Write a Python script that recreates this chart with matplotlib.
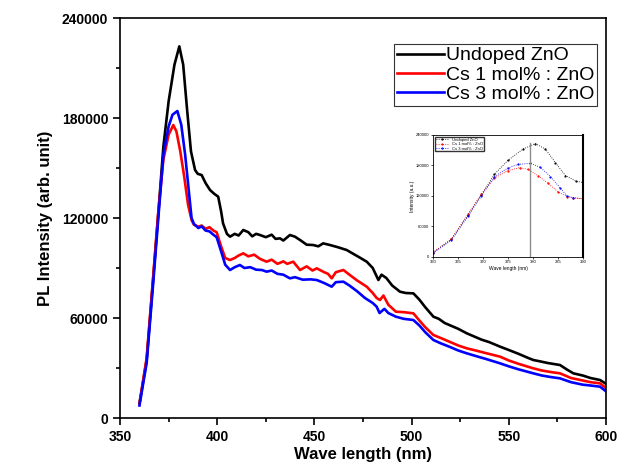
import matplotlib
matplotlib.use('Agg')
import matplotlib.pyplot as plt
from matplotlib.ticker import MultipleLocator

plt.rcParams['font.family'] = ['Liberation Sans', 'DejaVu Sans']

# wavelength [nm] and PL intensity
wl_undoped = [360, 363.7, 367, 369.7, 372.3, 375, 378, 380.5, 382.5, 384.5, 386.5, 388.6, 390, 392, 394,
              396.3, 398.5, 400.5, 402, 403, 405, 406.6, 409, 411, 413.4, 416, 418, 420, 422, 425, 428,
              430, 432.3, 434, 437.4, 440, 443, 446, 449.4, 452, 454.5, 458, 462, 466.6, 470, 473, 476.9,
              480, 482.9, 484.5, 487, 490, 494, 497, 500.9, 504, 507, 511.2, 514, 517, 520, 524, 528.4,
              532, 536, 540, 545.5, 550, 555, 560, 562.6, 566, 570, 576.3, 580, 583.2, 588, 592, 596.9, 600]
pl_undoped = [8800, 34800, 82800, 122800, 162800, 190000, 212000, 223000, 212000, 185000, 160000, 148800,
              146500, 145800, 141000, 136800, 134500, 132800, 124000, 116800, 110500, 108800, 110500,
              109500, 112800, 111500, 109000, 110500, 109800, 108500, 110000, 107500, 107800, 106500,
              109800, 108800, 106500, 104000, 103800, 103000, 104800, 103800, 102500, 100800, 98500,
              96500, 93800, 90000, 82800, 86000, 84000, 79500, 75800, 75000, 74800, 71000, 66500, 60800,
              59500, 57000, 55500, 53500, 50800, 49000, 47000, 45500, 42800, 40800, 38500, 36000, 34800,
              34000, 33000, 31800, 29000, 26800, 25500, 24000, 22800, 20500]

wl_cs1 = [360, 363.7, 367, 369.7, 372.3, 375, 377.4, 379, 381, 383, 385, 386.8, 388, 390.3, 392, 394, 396,
          398, 399.7, 402, 404.1, 406.6, 409, 411, 413.4, 416, 419, 422, 425.4, 428, 431, 434, 436, 439.1,
          442.6, 446, 449, 451.2, 455, 457, 458.9, 461, 464.9, 468, 472, 476.9, 480, 482, 483.7, 485.5,
          488, 491.9, 496, 500.9, 504, 507, 511.2, 515, 520, 524, 528.4, 533, 538, 545.5, 550, 555, 562.6,
          567, 572, 576.3, 582, 588, 592, 596.9, 600]
pl_cs1 = [8500, 36000, 84000, 124000, 155000, 170000, 175800, 172000, 160000, 145000, 128000, 118800,
          116000, 114800, 115500, 113500, 114500, 112500, 111500, 103000, 96000, 94800, 96000, 97500,
          98800, 97000, 98000, 95500, 93800, 95000, 92500, 94000, 92500, 93800, 88800, 91000, 88500,
          89800, 87500, 86500, 83800, 87500, 88800, 86000, 82500, 78800, 75000, 72000, 70800, 73500,
          68000, 63800, 63500, 62800, 58500, 54500, 49800, 48000, 45500, 43500, 41800, 40500, 39000,
          36800, 34500, 32500, 29800, 28500, 27500, 26800, 24000, 22500, 21500, 20800, 18000]

wl_cs3 = [360, 363.7, 367, 369.7, 372.3, 375, 377, 379.5, 381.5, 383.5, 385.5, 386.8, 388, 390.3, 392, 394,
          396, 398, 399.7, 402, 404.1, 406.6, 409, 411.7, 414, 417, 420, 423, 425.4, 428, 431, 434, 437.4,
          440, 444, 448, 451.2, 455, 458.9, 461, 464.9, 468, 472, 476, 480, 482, 483.5, 486, 488, 491.9,
          496, 500.9, 504, 507, 511.2, 515, 520, 524, 528.4, 533, 538, 545.5, 550, 555, 562.6, 567, 572,
          576.3, 582, 588, 592, 596.9, 600]
pl_cs3 = [7500, 33000, 80000, 120000, 158000, 175000, 182000, 184200, 176000, 158000, 135000, 120000,
          116500, 114000, 115000, 112500, 112000, 110000, 108500, 100000, 92000, 88800, 90500, 91800,
          90000, 90500, 89000, 88800, 87800, 88500, 86500, 86000, 83800, 84500, 83000, 83200, 82800,
          81000, 78800, 81500, 81800, 79500, 76000, 72000, 69000, 66800, 63000, 65500, 63000, 60800,
          59500, 58800, 55500, 51500, 46800, 44800, 42500, 40500, 38800, 37200, 35500, 32800, 31000,
          29200, 26800, 25500, 24500, 23800, 21500, 20000, 19500, 18800, 16000]

labels = ['Undoped ZnO', 'Cs 1 mol% : ZnO', 'Cs 3 mol% : ZnO']
colors = ['black', 'red', 'blue']
series = [(wl_undoped, pl_undoped), (wl_cs1, pl_cs1), (wl_cs3, pl_cs3)]

fig = plt.figure(figsize=(6.33, 4.75), dpi=100)
ax = fig.add_axes([0.1896, 0.12, 0.7678, 0.842])

for (x, y), c, lab in zip(series, colors, labels):
    ax.plot(x, y, color=c, lw=1.9, label=lab)

ax.set_xlim(350, 600)
ax.set_ylim(0, 240000)
ax.xaxis.set_major_locator(MultipleLocator(50))
ax.xaxis.set_minor_locator(MultipleLocator(25))
ax.yaxis.set_major_locator(MultipleLocator(60000))
ax.yaxis.set_minor_locator(MultipleLocator(30000))
ax.tick_params(which='both', direction='out', width=1.2)
ax.tick_params(which='major', length=5, labelsize=10)
ax.tick_params(which='minor', length=3)
for lbl in ax.get_xticklabels() + ax.get_yticklabels():
    lbl.set_fontweight('bold')
for s in ax.spines.values():
    s.set_linewidth(1.2)
ax.set_xlabel('Wave length (nm)', fontsize=12, fontweight='bold', labelpad=2)
ax.set_ylabel('PL Intensity (arb. unit)', fontsize=12, fontweight='bold', labelpad=6)

leg = ax.legend(loc='upper right', bbox_to_anchor=(0.99, 0.945), fontsize=14, frameon=True,
                fancybox=False, edgecolor='black', handlelength=2.4, handletextpad=0.1,
                borderpad=0.15, labelspacing=0.08, borderaxespad=0.2)
leg.get_frame().set_linewidth(0.8)

# inset: zoom on the band-edge peak
ins = fig.add_axes([0.684, 0.459, 0.237, 0.257])
for (x, y), c, lab in zip(series, colors, labels):
    ins.plot(x, y, color=c, lw=0.6, ls=':', marker='o', ms=0.6, label=lab)
ins.axvline(379.5, ymax=0.93, color='0.55', lw=1)
ins.set_xlim(360, 390)
ins.set_ylim(0, 240000)
ins.xaxis.set_major_locator(MultipleLocator(5))
ins.yaxis.set_major_locator(MultipleLocator(60000))
ins.tick_params(labelsize=3, length=1.5, width=0.5, pad=1)
ins.set_xlabel('Wave length (nm)', fontsize=3.5, labelpad=1)
ins.set_ylabel('Intensity (a.u.)', fontsize=3.5, labelpad=1)
ins.spines['right'].set_linewidth(1.5)
for k in ['left', 'top', 'bottom']:
    ins.spines[k].set_linewidth(0.6)
ins.legend(loc='upper left', fontsize=3, frameon=True, fancybox=False, edgecolor='black',
           handlelength=3, borderpad=0.2, labelspacing=0.1)

fig.savefig('out.png', dpi=100)
